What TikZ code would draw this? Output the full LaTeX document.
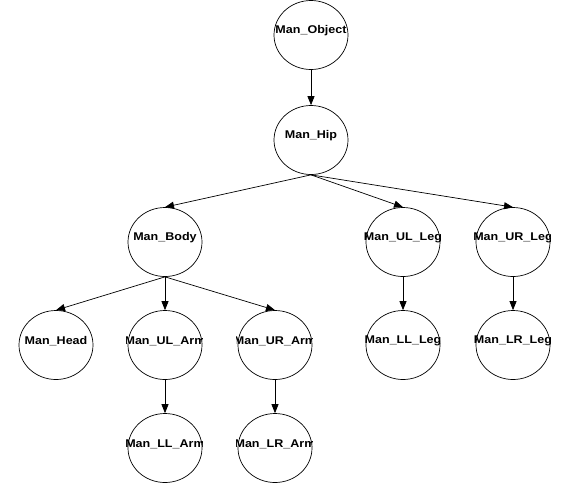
\documentclass[tikz,border=0pt]{standalone}
\usepackage{fontspec}
\setmainfont{Liberation Sans}[FakeStretch=1.12]
\usetikzlibrary{arrows.meta,shapes.geometric}
\tikzset{
  mball/.style={ellipse,draw=black,line width=0.7pt,minimum width=74pt,minimum height=69pt,inner sep=0pt},
  mtext/.style={font=\bfseries\fontsize{11.2}{12}\selectfont,inner sep=0pt,text=black},
  marrow/.style={draw=black,line width=0.7pt,-{Triangle[length=9pt,width=7pt]}}
}
\newcommand\mnode[4]{%
  \node[mball] (#1) at (#2,#3) {};
  \begin{scope}
    \clip ([xshift=-1pt]#1.west |- #1.north) rectangle (#1.east |- #1.south);
    \node[mtext] (#1-t) at ([yshift=4pt]#1.center) {#4};
  \end{scope}}
\begin{document}
\begin{tikzpicture}[x=1pt,y=-1pt]
\useasboundingbox (0,0) rectangle (567,483);
\mnode{obj}{311}{35}{Man\_Object}
\mnode{hip}{311}{140}{Man\_Hip}
\mnode{body}{165}{242}{Man\_Body}
\mnode{ulleg}{403}{242}{Man\_UL\_Leg}
\mnode{urleg}{513}{242}{Man\_UR\_Leg}
\mnode{head}{56}{345}{Man\_Head}
\mnode{ularm}{165}{345}{Man\_UL\_Arm}
\mnode{urarm}{275}{345}{Man\_UR\_Arm}
\mnode{llleg}{403}{345}{Man\_LL\_Leg}
\mnode{lrleg}{513}{345}{Man\_LR\_Leg}
\mnode{llarm}{165}{448}{Man\_LL\_Arm}
\mnode{lrarm}{275}{448}{Man\_LR\_Arm}
\draw[marrow] (obj.south) -- (hip.north);
\draw[marrow] (hip.south) -- (body.north);
\draw[marrow] (hip.south) -- (ulleg.north);
\draw[marrow] (hip.south) -- (urleg.north);
\draw[marrow] (body.south) -- (head.north);
\draw[marrow] (body.south) -- (ularm.north);
\draw[marrow] (body.south) -- (urarm.north);
\draw[marrow] (ulleg.south) -- (llleg.north);
\draw[marrow] (urleg.south) -- (lrleg.north);
\draw[marrow] (ularm.south) -- (llarm.north);
\draw[marrow] (urarm.south) -- (lrarm.north);
\end{tikzpicture}
\end{document}
